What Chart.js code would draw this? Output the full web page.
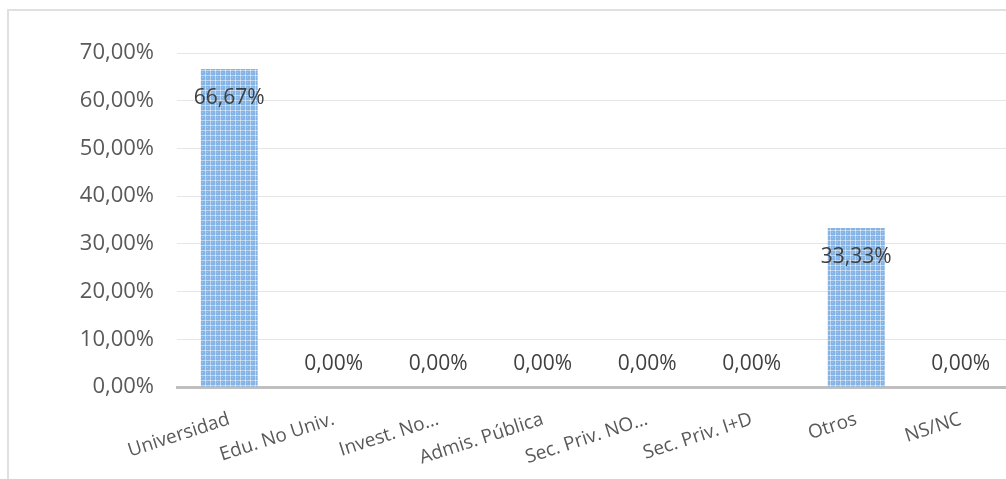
<!DOCTYPE html>
<html><head><meta charset="utf-8">
<script src="https://cdn.jsdelivr.net/npm/chart.js@4/dist/chart.umd.min.js"></script>
<style>
html,body{margin:0;padding:0;background:#fff;overflow:hidden;width:1006px;height:479px;}
#frame{position:absolute;left:7px;top:9px;width:1100px;height:600px;border:2px solid #e0e0e0;}
#wrap{position:absolute;left:0;top:0;width:1020px;height:479px;}
</style></head>
<body>
<div id="frame"></div>
<div id="wrap"><canvas id="c" width="1020" height="479"></canvas></div>
<script>
const categories = ["Universidad","Edu. No Univ.","Invest. No…","Admis. Pública","Sec. Priv. NO…","Sec. Priv. I+D","Otros","NS/NC"];
const values = [66.67, 0, 0, 0, 0, 0, 33.33, 0];
const valueLabels = ["66,67%","0,00%","0,00%","0,00%","0,00%","0,00%","33,33%","0,00%"];
const yTicks = [0,10,20,30,40,50,60,70];

function makePattern(){
  const p = document.createElement('canvas'); p.width = 5; p.height = 5;
  const g = p.getContext('2d');
  g.fillStyle = '#84b3e6'; g.fillRect(0,0,5,5);
  g.fillStyle = '#bcd6f2'; g.fillRect(0,0,5,1); g.fillRect(0,0,1,5);
  g.fillStyle = '#e2edf9'; g.fillRect(0,0,1,1);
  g.fillStyle = '#a6c8ee'; g.fillRect(2,2,1,1);
  return document.getElementById('c').getContext('2d').createPattern(p,'repeat');
}

const labelPlugin = {
  id:'vlabels',
  afterDatasetsDraw(chart){
    const ctx = chart.ctx;
    const meta = chart.getDatasetMeta(0);
    ctx.save();
    ctx.font = '21px "Open Sans"';
    ctx.fillStyle = '#404040';
    ctx.textAlign = 'center';
    ctx.textBaseline = 'middle';
    meta.data.forEach((bar,i)=>{
      const v = values[i];
      const y = v > 0 ? bar.y + 29 : bar.base - 23;
      ctx.fillText(valueLabels[i], bar.x, y);
    });
    ctx.restore();
  }
};

new Chart(document.getElementById('c'), {
  type:'bar',
  data:{ labels: categories, datasets:[{ data: values, backgroundColor: makePattern(), borderWidth:0, barPercentage:0.545, categoryPercentage:1 }]},
  options:{
    responsive:false, animation:false,
    layout:{padding:{left:0,right:7,top:53,bottom:0}},
    plugins:{legend:{display:false}, tooltip:{enabled:false}},
    scales:{
      y:{
        min:0, max:70,
        afterFit(s){ s.width = 177; },
        afterBuildTicks(s){ s.ticks = yTicks.map(v=>({value:v})); },
        ticks:{ padding:23, color:'#595959', font:{family:'"Open Sans"', size:22},
          callback:(v)=> v.toFixed(2).replace('.',',') + '%' },
        grid:{ color:'#e6e6e6', lineWidth:1, drawTicks:false },
        border:{ display:false }
      },
      x:{
        afterFit(s){ s.height = 92; },
        ticks:{ minRotation:18, maxRotation:18, padding:21, color:'#595959', font:{family:'"Open Sans"', size:19}, autoSkip:false },
        grid:{ display:false, drawTicks:false },
        border:{ display:true, color:'#bfbfbf', width:3 }
      }
    }
  },
  plugins:[labelPlugin]
});
</script>
</body></html>
